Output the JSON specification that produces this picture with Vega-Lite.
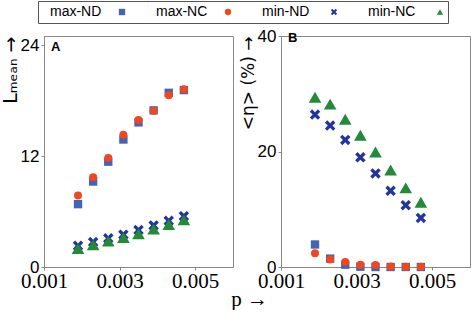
{
  "$schema": "https://vega.github.io/schema/vega-lite/v6.json",
  "padding": {"left": 0, "top": 0, "right": 2, "bottom": 0},
  "spacing": 4,
  "title": {"text": "p →", "orient": "bottom", "font": "Liberation Serif, DejaVu Serif", "fontSize": 21, "fontWeight": "normal", "anchor": "middle", "dx": 14, "offset": -3, "color": "black"},
  "config": {
    "view": {"stroke": "#888", "strokeWidth": 1},
    "axis": {"domainColor": "#888", "tickColor": "#888", "grid": false, "labelColor": "black", "titleColor": "black", "tickSize": 3},
    "legend": {"orient": "none", "legendX": -6, "legendY": -35, "direction": "horizontal", "strokeColor": "#555", "padding": 4, "labelAlign": "left", "labelOffset": -79, "symbolOffset": 73, "columnPadding": 22, "symbolSize": 40, "labelFont": "Liberation Sans", "labelFontSize": 14, "labelColor": "black", "title": null}
  },
  "data": {"values": [
    {"panel": "A", "series": "max-ND", "p": 0.0019, "v": 6.8},
    {"panel": "A", "series": "max-ND", "p": 0.0023, "v": 9.25},
    {"panel": "A", "series": "max-ND", "p": 0.0027, "v": 11.4},
    {"panel": "A", "series": "max-ND", "p": 0.0031, "v": 13.8},
    {"panel": "A", "series": "max-ND", "p": 0.0035, "v": 15.65},
    {"panel": "A", "series": "max-ND", "p": 0.0039, "v": 16.95},
    {"panel": "A", "series": "max-ND", "p": 0.0043, "v": 18.85},
    {"panel": "A", "series": "max-ND", "p": 0.0047, "v": 19.15},
    {"panel": "A", "series": "max-NC", "p": 0.0019, "v": 7.75},
    {"panel": "A", "series": "max-NC", "p": 0.0023, "v": 9.7},
    {"panel": "A", "series": "max-NC", "p": 0.0027, "v": 11.8},
    {"panel": "A", "series": "max-NC", "p": 0.0031, "v": 14.3},
    {"panel": "A", "series": "max-NC", "p": 0.0035, "v": 15.9},
    {"panel": "A", "series": "max-NC", "p": 0.0039, "v": 16.9},
    {"panel": "A", "series": "max-NC", "p": 0.0043, "v": 18.6},
    {"panel": "A", "series": "max-NC", "p": 0.0047, "v": 19.25},
    {"panel": "A", "series": "min-ND", "p": 0.0019, "v": 2.3},
    {"panel": "A", "series": "min-ND", "p": 0.0023, "v": 2.7},
    {"panel": "A", "series": "min-ND", "p": 0.0027, "v": 3.1},
    {"panel": "A", "series": "min-ND", "p": 0.0031, "v": 3.5},
    {"panel": "A", "series": "min-ND", "p": 0.0035, "v": 4.0},
    {"panel": "A", "series": "min-ND", "p": 0.0039, "v": 4.5},
    {"panel": "A", "series": "min-ND", "p": 0.0043, "v": 5.0},
    {"panel": "A", "series": "min-ND", "p": 0.0047, "v": 5.5},
    {"panel": "A", "series": "min-NC", "p": 0.0019, "v": 2.0},
    {"panel": "A", "series": "min-NC", "p": 0.0023, "v": 2.4},
    {"panel": "A", "series": "min-NC", "p": 0.0027, "v": 2.8},
    {"panel": "A", "series": "min-NC", "p": 0.0031, "v": 3.2},
    {"panel": "A", "series": "min-NC", "p": 0.0035, "v": 3.6},
    {"panel": "A", "series": "min-NC", "p": 0.0039, "v": 4.1},
    {"panel": "A", "series": "min-NC", "p": 0.0043, "v": 4.6},
    {"panel": "A", "series": "min-NC", "p": 0.0047, "v": 5.1},
    {"panel": "B", "series": "max-ND", "p": 0.0019, "v": 3.9},
    {"panel": "B", "series": "max-ND", "p": 0.0023, "v": 1.45},
    {"panel": "B", "series": "max-ND", "p": 0.0027, "v": 0.4},
    {"panel": "B", "series": "max-ND", "p": 0.0031, "v": 0.05},
    {"panel": "B", "series": "max-ND", "p": 0.0035, "v": 0.0},
    {"panel": "B", "series": "max-ND", "p": 0.0039, "v": 0.0},
    {"panel": "B", "series": "max-ND", "p": 0.0043, "v": 0.0},
    {"panel": "B", "series": "max-ND", "p": 0.0047, "v": 0.0},
    {"panel": "B", "series": "max-NC", "p": 0.0019, "v": 2.4},
    {"panel": "B", "series": "max-NC", "p": 0.0023, "v": 1.3},
    {"panel": "B", "series": "max-NC", "p": 0.0027, "v": 0.87},
    {"panel": "B", "series": "max-NC", "p": 0.0031, "v": 0.4},
    {"panel": "B", "series": "max-NC", "p": 0.0035, "v": 0.35},
    {"panel": "B", "series": "max-NC", "p": 0.0039, "v": 0.1},
    {"panel": "B", "series": "max-NC", "p": 0.0043, "v": 0.05},
    {"panel": "B", "series": "max-NC", "p": 0.0047, "v": 0.05},
    {"panel": "B", "series": "min-ND", "p": 0.0019, "v": 26.4},
    {"panel": "B", "series": "min-ND", "p": 0.0023, "v": 24.5},
    {"panel": "B", "series": "min-ND", "p": 0.0027, "v": 22.0},
    {"panel": "B", "series": "min-ND", "p": 0.0031, "v": 19.0},
    {"panel": "B", "series": "min-ND", "p": 0.0035, "v": 16.2},
    {"panel": "B", "series": "min-ND", "p": 0.0039, "v": 13.2},
    {"panel": "B", "series": "min-ND", "p": 0.0043, "v": 10.7},
    {"panel": "B", "series": "min-ND", "p": 0.0047, "v": 8.5},
    {"panel": "B", "series": "min-NC", "p": 0.0019, "v": 29.4},
    {"panel": "B", "series": "min-NC", "p": 0.0023, "v": 28.2},
    {"panel": "B", "series": "min-NC", "p": 0.0027, "v": 25.6},
    {"panel": "B", "series": "min-NC", "p": 0.0031, "v": 22.8},
    {"panel": "B", "series": "min-NC", "p": 0.0035, "v": 19.9},
    {"panel": "B", "series": "min-NC", "p": 0.0039, "v": 16.8},
    {"panel": "B", "series": "min-NC", "p": 0.0043, "v": 13.7},
    {"panel": "B", "series": "min-NC", "p": 0.0047, "v": 11.2}
  ]},
  "hconcat": [
    {
      "width": 189, "height": 231,
      "title": {"text": "A", "anchor": "start", "frame": "group", "offset": -18, "dx": 7, "font": "Liberation Sans", "fontSize": 13, "fontWeight": "bold", "color": "black"},
      "transform": [{"filter": "datum.panel == 'A'"}],
      "encoding": {
        "x": {"field": "p", "type": "quantitative", "scale": {"domain": [0.001, 0.006], "nice": false, "zero": false},
              "axis": {"values": [0.001, 0.003, 0.005], "format": ".3f", "title": null, "labelFont": "Liberation Serif", "labelFontSize": 21, "labelDx": 13, "labelFlush": false, "labelPadding": 0}},
        "y": {"field": "v", "type": "quantitative", "scale": {"domain": [0, 25], "nice": false},
              "axis": {"values": [0, 12, 24], "title": "Lₘₑₐₙ →", "titleAnchor": "end", "titleFont": "DejaVu Sans", "titleFontSize": 19, "titleFontWeight": "normal", "labelFont": "Liberation Sans", "labelFontSize": 17, "labelPadding": 2, "titlePadding": 0}},
        "color": {"field": "series", "type": "nominal", "scale": {"domain": ["max-ND", "max-NC", "min-ND", "min-NC"], "range": ["#4363b4", "#f2461e", "#22349e", "#238a39"]}},
        "shape": {"field": "series", "type": "nominal", "scale": {"domain": ["max-ND", "max-NC", "min-ND", "min-NC"], "range": ["square", "circle", "M-1,-0.55L-0.55,-1L0,-0.45L0.55,-1L1,-0.55L0.45,0L1,0.55L0.55,1L0,0.45L-0.55,1L-1,0.55L-0.45,0Z", "triangle-up"]}}
      },
      "layer": [
        {"transform": [{"filter": "datum.series == 'max-ND'"}], "mark": {"type": "point", "filled": true, "opacity": 1, "size": 70}},
        {"transform": [{"filter": "datum.series == 'max-NC'"}], "mark": {"type": "point", "filled": true, "opacity": 1, "size": 64}},
        {"transform": [{"filter": "datum.series == 'min-ND'"}], "mark": {"type": "point", "filled": true, "opacity": 1, "size": 110}},
        {"transform": [{"filter": "datum.series == 'min-NC'"}], "mark": {"type": "point", "filled": true, "opacity": 1, "size": 160}}
      ]
    },
    {
      "width": 189, "height": 231,
      "title": {"text": "B", "anchor": "start", "frame": "group", "offset": -18, "dx": 7, "font": "Liberation Sans", "fontSize": 13, "fontWeight": "bold", "color": "black"},
      "transform": [{"filter": "datum.panel == 'B'"}],
      "encoding": {
        "x": {"field": "p", "type": "quantitative", "scale": {"domain": [0.001, 0.006], "nice": false, "zero": false},
              "axis": {"values": [0.001, 0.003, 0.005], "format": ".3f", "title": null, "labelFont": "Liberation Serif", "labelFontSize": 21, "labelDx": 13, "labelFlush": false, "labelPadding": 0}},
        "y": {"field": "v", "type": "quantitative", "scale": {"domain": [0, 40], "nice": false},
              "axis": {"values": [0, 20, 40], "title": "<η> (%) →", "titleAnchor": "end", "titleFont": "DejaVu Sans", "titleFontSize": 17, "titleFontWeight": "normal", "labelFont": "Liberation Sans", "labelFontSize": 17, "labelPadding": 2, "titlePadding": 0}},
        "color": {"field": "series", "type": "nominal", "scale": {"domain": ["max-ND", "max-NC", "min-ND", "min-NC"], "range": ["#4363b4", "#f2461e", "#22349e", "#238a39"]}},
        "shape": {"field": "series", "type": "nominal", "scale": {"domain": ["max-ND", "max-NC", "min-ND", "min-NC"], "range": ["square", "circle", "M-1,-0.55L-0.55,-1L0,-0.45L0.55,-1L1,-0.55L0.45,0L1,0.55L0.55,1L0,0.45L-0.55,1L-1,0.55L-0.45,0Z", "triangle-up"]}}
      },
      "layer": [
        {"transform": [{"filter": "datum.series == 'max-ND'"}], "mark": {"type": "point", "filled": true, "opacity": 1, "size": 70}},
        {"transform": [{"filter": "datum.series == 'max-NC'"}], "mark": {"type": "point", "filled": true, "opacity": 1, "size": 64}},
        {"transform": [{"filter": "datum.series == 'min-ND'"}], "mark": {"type": "point", "filled": true, "opacity": 1, "size": 110}},
        {"transform": [{"filter": "datum.series == 'min-NC'"}], "mark": {"type": "point", "filled": true, "opacity": 1, "size": 160}}
      ]
    }
  ]
}
